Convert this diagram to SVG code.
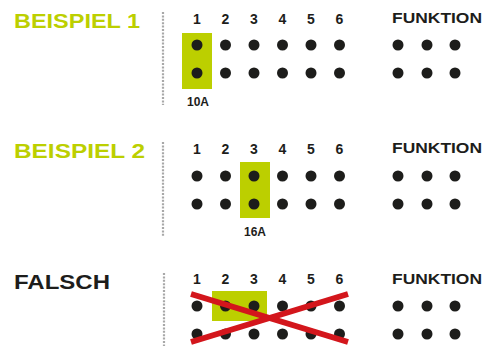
<svg xmlns="http://www.w3.org/2000/svg" width="491" height="346" viewBox="0 0 491 346">
<style>
.h{font-family:"Liberation Sans",Arial,sans-serif;font-weight:bold;font-size:21px}
.g{fill:#bccf00}
.k{fill:#1d1d1b}
.n{font-family:"Liberation Sans",Arial,sans-serif;font-weight:bold;font-size:14px;fill:#1d1d1b;text-anchor:middle}
.f{font-family:"Liberation Sans",Arial,sans-serif;font-weight:bold;font-size:15px;fill:#1d1d1b}
.a{font-family:"Liberation Sans",Arial,sans-serif;font-weight:bold;font-size:12px;fill:#1d1d1b;text-anchor:middle}
.d{fill:#1d1d1b}
.sep{stroke:#a8a8a8;stroke-width:2.2;stroke-dasharray:2 1.4;fill:none}
.box{fill:#bccf00}
</style>
<defs>
<g id="nums">
<text class="n" x="197" y="0">1</text><text class="n" x="225.5" y="0">2</text><text class="n" x="254" y="0">3</text><text class="n" x="282.5" y="0">4</text><text class="n" x="311" y="0">5</text><text class="n" x="339.5" y="0">6</text>
</g>
<g id="dots">
<circle class="d" cx="197" cy="0" r="5.5"/><circle class="d" cx="225.5" cy="0" r="5.5"/><circle class="d" cx="254" cy="0" r="5.5"/><circle class="d" cx="282.5" cy="0" r="5.5"/><circle class="d" cx="311" cy="0" r="5.5"/><circle class="d" cx="339.5" cy="0" r="5.5"/>
<circle class="d" cx="197" cy="28" r="5.5"/><circle class="d" cx="225.5" cy="28" r="5.5"/><circle class="d" cx="254" cy="28" r="5.5"/><circle class="d" cx="282.5" cy="28" r="5.5"/><circle class="d" cx="311" cy="28" r="5.5"/><circle class="d" cx="339.5" cy="28" r="5.5"/>
<circle class="d" cx="398" cy="0" r="5.5"/><circle class="d" cx="427" cy="0" r="5.5"/><circle class="d" cx="455" cy="0" r="5.5"/>
<circle class="d" cx="398" cy="28" r="5.5"/><circle class="d" cx="427" cy="28" r="5.5"/><circle class="d" cx="455" cy="28" r="5.5"/>
</g>
</defs>
<g id="beispiel1">
<text class="h g" x="14" y="28" textLength="126" lengthAdjust="spacingAndGlyphs">BEISPIEL 1</text>
<line class="sep" x1="163" y1="12" x2="163" y2="105"/>
<rect class="box" x="182" y="33" width="30" height="56"/>
<use href="#nums" y="23.5"/>
<text class="f" x="392" y="23" textLength="90" lengthAdjust="spacingAndGlyphs">FUNKTION</text>
<use href="#dots" y="45"/>
<text class="a" x="198" y="106">10A</text>
</g>
<g id="beispiel2">
<text class="h g" x="14" y="158" textLength="131" lengthAdjust="spacingAndGlyphs">BEISPIEL 2</text>
<line class="sep" x1="163" y1="142" x2="163" y2="236"/>
<rect class="box" x="240" y="162" width="30" height="56"/>
<use href="#nums" y="153.5"/>
<text class="f" x="392" y="153" textLength="90" lengthAdjust="spacingAndGlyphs">FUNKTION</text>
<use href="#dots" y="176"/>
<text class="a" x="255" y="236">16A</text>
</g>
<g id="falsch">
<text class="h k" x="14" y="289" textLength="96" lengthAdjust="spacingAndGlyphs">FALSCH</text>
<line class="sep" x1="164" y1="273" x2="164" y2="346"/>
<rect class="box" x="212" y="291" width="55" height="30"/>
<use href="#nums" y="283.5"/>
<text class="f" x="392" y="284" textLength="90" lengthAdjust="spacingAndGlyphs">FUNKTION</text>
<use href="#dots" y="306"/>
</g>
<g id="connectors">
<line x1="191" y1="294" x2="348" y2="342" stroke="#d3161c" stroke-width="6"/>
<line x1="191" y1="342" x2="348" y2="294" stroke="#d3161c" stroke-width="6"/>
</g>
</svg>
